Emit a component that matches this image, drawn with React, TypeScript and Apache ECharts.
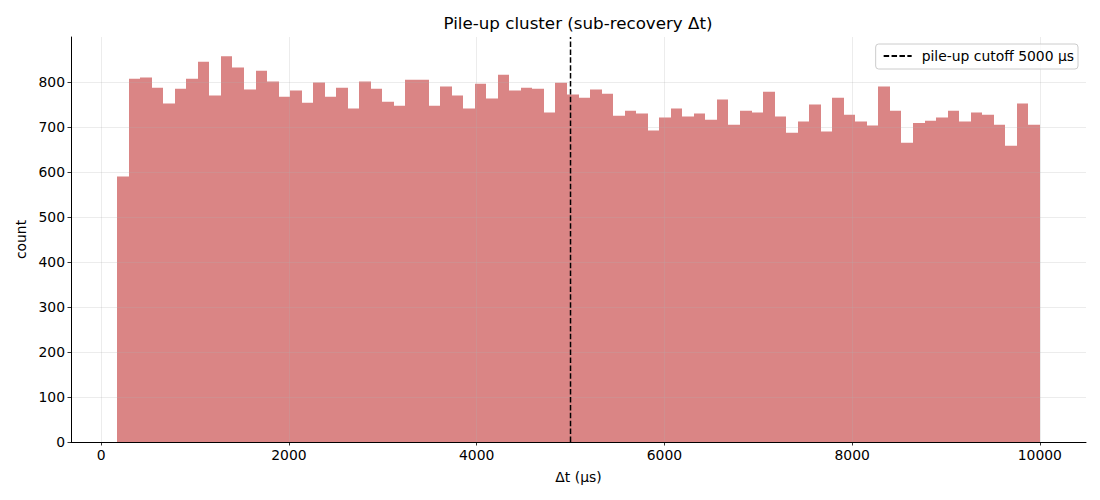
import React, { useEffect, useRef } from "react";
import * as echarts from "echarts";

// ---- data ----
const BIN_MIN = 170; // left edge of the first bin (µs)
const BIN_MAX = 10000; // right edge of the last bin (µs)
const counts = [
  590, 807, 810, 787, 752, 785, 807, 845, 770, 857, 832, 783, 825, 801, 767, 781, 754, 799, 767, 787,
  741, 801, 785, 756, 747, 805, 805, 747, 790, 770, 741, 796, 763, 816, 781, 787, 785, 732, 798, 772,
  765, 783, 774, 725, 736, 730, 692, 721, 741, 723, 730, 716, 761, 705, 736, 732, 778, 723, 687, 712,
  750, 690, 765, 727, 712, 703, 790, 736, 665, 709, 714, 721, 736, 712, 732, 727, 705, 658, 752, 705,
];
const CUTOFF = 5000;
const CUTOFF_LABEL = "pile-up cutoff 5000 μs";
const xTicks = [0, 2000, 4000, 6000, 8000, 10000];
const yTicks = [0, 100, 200, 300, 400, 500, 600, 700, 800];
const TITLE = "Pile-up cluster (sub-recovery Δt)";
const X_NAME = "Δt (μs)";
const Y_NAME = "count";

const FONT = "DejaVu Sans";
const BAR_COLOR = "rgba(205,92,92,0.75)";
const GRID_COLOR = "rgba(176,176,176,0.3)";

export default function App() {
  const ref = useRef<HTMLDivElement>(null);

  useEffect(() => {
    const chart = echarts.init(ref.current!, null, { renderer: "svg" });
    const binW = (BIN_MAX - BIN_MIN) / counts.length;
    const bars = counts.map((c, i) => [BIN_MIN + i * binW, BIN_MIN + (i + 1) * binW, c]);
    const span = BIN_MAX - BIN_MIN;
    const xMin = BIN_MIN - 0.05 * span;
    const xMax = BIN_MAX + 0.05 * span;
    const yMax = Math.max(...counts) * 1.05;

    chart.setOption({
      animation: false,
      textStyle: { fontFamily: FONT },
      grid: { left: 71, right: 14, top: 37, bottom: 58, containLabel: false },
      graphic: [
        {
          type: "text",
          x: 578,
          y: 23,
          style: {
            text: TITLE,
            align: "center",
            verticalAlign: "middle",
            fontSize: 16.7,
            fontFamily: FONT,
            fill: "#000",
          },
        },
      ],
      legend: {
        show: true,
        right: 22,
        top: 44,
        data: [{ name: CUTOFF_LABEL }],
        itemWidth: 28,
        itemHeight: 14,
        padding: [5, 4, 6, 7],
        backgroundColor: "rgba(255,255,255,0.8)",
        borderColor: "#cccccc",
        borderWidth: 1,
        borderRadius: 3,
        selectedMode: false,
        itemStyle: { opacity: 0 },
        textStyle: { fontSize: 13.9, color: "#000", fontFamily: FONT, padding: [0, 0, 0, 5] },
        z: 10,
      },
      xAxis: {
        type: "value",
        min: xMin,
        max: xMax,
        z: 3,
        name: X_NAME,
        nameLocation: "middle",
        nameGap: 28,
        nameTextStyle: { fontSize: 13.9, color: "#000", fontFamily: FONT },
        axisLine: { show: true, onZero: false, lineStyle: { color: "#000", width: 1 } },
        axisTick: { show: true, length: 3.5, lineStyle: { color: "#000", width: 0.8 }, customValues: xTicks },
        axisLabel: {
          customValues: xTicks,
          color: "#000",
          fontSize: 13.9,
          margin: 6,
          fontFamily: FONT,
          formatter: (v: number) => String(v),
        },
        splitLine: { show: true, lineStyle: { color: GRID_COLOR, width: 0.8 } },
      },
      yAxis: {
        type: "value",
        min: 0,
        max: yMax,
        z: 3,
        name: Y_NAME,
        nameLocation: "middle",
        nameGap: 43,
        nameTextStyle: { fontSize: 13.9, color: "#000", fontFamily: FONT },
        axisLine: { show: true, onZero: false, lineStyle: { color: "#000", width: 1 } },
        axisTick: { show: true, length: 3.5, lineStyle: { color: "#000", width: 0.8 }, customValues: yTicks },
        axisLabel: {
          customValues: yTicks,
          color: "#000",
          fontSize: 13.9,
          margin: 6,
          fontFamily: FONT,
          formatter: (v: number) => String(v),
        },
        splitLine: { show: true, lineStyle: { color: GRID_COLOR, width: 0.8 } },
      },
      series: [
        {
          type: "custom",
          name: "counts",
          data: bars,
          encode: { x: [0, 1], y: 2 },
          silent: true,
          renderItem: (_params: any, api: any) => {
            const a = api.coord([api.value(0), api.value(2)]);
            const b = api.coord([api.value(1), 0]);
            const x0 = Math.round(a[0]);
            const x1 = Math.round(b[0]);
            return {
              type: "rect",
              shape: { x: x0, y: a[1], width: x1 - x0, height: b[1] - a[1] },
              style: { fill: BAR_COLOR },
            };
          },
          z: 2,
        },
        {
          type: "line",
          name: CUTOFF_LABEL,
          data: [
            [CUTOFF, 0],
            [CUTOFF, yMax],
          ],
          symbol: "none",
          silent: true,
          lineStyle: { color: "#000", width: 1.5, type: [5.5, 2.4] },
          itemStyle: { color: "#000" },
          z: 5,
        },
      ],
    });

    return () => chart.dispose();
  }, []);

  return (
    <div
      ref={ref}
      style={{ position: "fixed", left: 0, top: 0, width: 1100, height: 500, background: "#fff" }}
    />
  );
}
